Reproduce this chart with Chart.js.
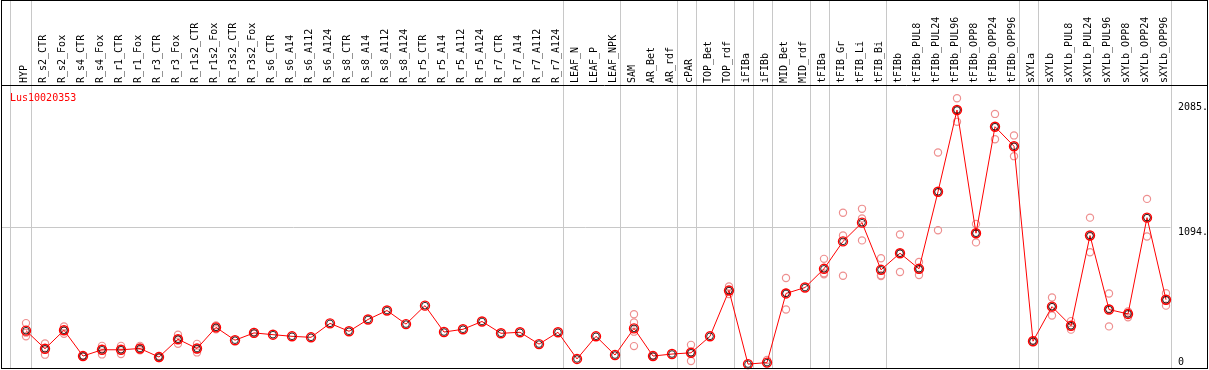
<!DOCTYPE html>
<html>
<head>
<meta charset="utf-8">
<script src="https://cdn.jsdelivr.net/npm/chart.js"></script>
<style>
  html, body { margin: 0; padding: 0; background: #fff; overflow: hidden; }
  #c { display: block; }
</style>
</head>
<body>
<canvas id="c" width="1209" height="370"></canvas>
<script>
// --- data ---
const title = 'Lus10020353';

const categories = [
  'HYP', 'R_s2_CTR', 'R_s2_Fox', 'R_s4_CTR', 'R_s4_Fox', 'R_r1_CTR', 'R_r1_Fox', 'R_r3_CTR', 'R_r3_Fox',
  'R_r1s2_CTR', 'R_r1s2_Fox', 'R_r3s2_CTR', 'R_r3s2_Fox', 'R_s6_CTR', 'R_s6_A14', 'R_s6_A112', 'R_s6_A124',
  'R_s8_CTR', 'R_s8_A14', 'R_s8_A112', 'R_s8_A124', 'R_r5_CTR', 'R_r5_A14', 'R_r5_A112', 'R_r5_A124',
  'R_r7_CTR', 'R_r7_A14', 'R_r7_A112', 'R_r7_A124', 'LEAF_N', 'LEAF_P', 'LEAF_NPK', 'SAM', 'AR_Bet', 'AR_rdf',
  'cPAR', 'TOP_Bet', 'TOP_rdf', 'iFIBa', 'iFIBb', 'MID_Bet', 'MID_rdf', 'tFIBa', 'tFIB_Gr', 'tFIB_Li', 'tFIB_Bi',
  'tFIBb', 'tFIBb_PUL8', 'tFIBb_PUL24', 'tFIBb_PUL96', 'tFIBb_OPP8', 'tFIBb_OPP24', 'tFIBb_OPP96',
  'sXYLa', 'sXYLb', 'sXYLb_PUL8', 'sXYLb_PUL24', 'sXYLb_PUL96', 'sXYLb_OPP8', 'sXYLb_OPP24', 'sXYLb_OPP96'
];

const means = [
  266, 122, 269, 64, 114, 114, 124, 56, 198,
  124, 292, 190, 248, 234, 221, 213, 324,
  261, 355, 426, 318, 465, 255, 277, 339,
  245, 253, 159, 253, 41, 221, 72, 284, 64, 80,
  90, 221, 585, 0, 12, 562, 609, 758, 976, 1125, 750,
  882, 758, 1371, 2021, 1041, 1888, 1733,
  182, 457, 305, 1023, 434, 399, 1165, 512
];

const replicates = [
  [326, 250, 222], [164, 127, 75], [300, 265, 242], [60, 68, 64], [145, 120, 77], [145, 117, 80],
  [145, 117, 110], [64, 56, 48], [234, 198, 161], [161, 118, 93], [308, 292, 277], [], [255, 242],
  [], [], [], [], [], [], [], [], [], [], [], [],
  [], [], [], [], [], [], [], [397, 331, 258, 143], [58, 70], [],
  [153, 92, 25], [], [617, 583, 557], [], [33], [685, 568, 434], [], [837, 722, 714],
  [1204, 1023, 703], [1235, 1159, 984], [842, 707, 701],
  [1031, 882, 732], [813, 750, 709], [1683, 1365, 1065], [2115, 2021, 1927], [1115, 1041, 968],
  [1990, 1888, 1788], [1819, 1727, 1654],
  [190, 176], [530, 455, 387], [342, 300, 274], [1165, 1014, 890], [562, 440, 300], [418, 405, 373],
  [1314, 1165, 1015], [564, 508, 465]
];

const yTicks = [0, 1094, 2085];
// index of the last category in each group (grey separators)
const groupEnds = [0, 28, 31, 34, 35, 37, 38, 39, 41, 42, 45, 52, 53, 60];

// replicate points keyed by category label so the category scale places them
const repPoints = [];
replicates.forEach((vals, i) => vals.forEach(v => repPoints.push({ x: categories[i], y: v })));

const font = '10px "DejaVu Sans Mono"';

const decor = {
  id: 'decor',
  beforeDatasetsDraw(chart) {
    const ctx = chart.ctx, xs = chart.scales.x, ys = chart.scales.y;
    ctx.save();
    ctx.strokeStyle = '#c8c8c8';
    ctx.lineWidth = 1;
    ctx.beginPath();
    const yMid = Math.round(ys.getPixelForValue(yTicks[1])) + 0.5;
    ctx.moveTo(1, yMid);
    ctx.lineTo(1170.5, yMid);
    ctx.moveTo(10.5, 0);
    ctx.lineTo(10.5, 369);
    groupEnds.forEach(i => {
      const x = Math.round(xs.getPixelForValue(i) + 4.5) + 0.5;
      ctx.moveTo(x, 0);
      ctx.lineTo(x, 369);
    });
    ctx.stroke();
    ctx.restore();
  },
  afterDatasetsDraw(chart) {
    const ctx = chart.ctx, xs = chart.scales.x, ys = chart.scales.y;
    ctx.save();
    ctx.strokeStyle = '#000';
    ctx.lineWidth = 1;
    ctx.strokeRect(1.5, 0.5, 1206, 368);
    ctx.beginPath();
    ctx.moveTo(1, 85.5);
    ctx.lineTo(1208, 85.5);
    ctx.stroke();

    // rotated category labels
    ctx.fillStyle = '#000';
    ctx.font = font;
    ctx.textAlign = 'left';
    ctx.textBaseline = 'alphabetic';
    categories.forEach((lab, i) => {
      const x = xs.getPixelForValue(i) + 1;
      ctx.save();
      ctx.translate(x, 83);
      ctx.rotate(-Math.PI / 2);
      ctx.fillText(lab, 0, 0);
      ctx.restore();
    });

    ctx.fillStyle = '#ff0000';
    ctx.fillText(title, 10, 101);

    // y tick labels on the right
    ctx.fillStyle = '#000';
    ctx.textBaseline = 'top';
    yTicks.forEach(v => {
      let y = ys.getPixelForValue(v) + 0.5;
      if (y > 357) y = 357;
      ctx.fillText(v === 0 ? '0' : v + '.', 1178, y);
    });
    ctx.restore();
  }
};

new Chart(document.getElementById('c'), {
  type: 'line',
  data: {
    labels: categories,
    datasets: [
      {
        // inner black ring of the mean markers
        data: means,
        showLine: false,
        pointStyle: 'circle',
        pointRadius: 3.3,
        pointBorderWidth: 0.8,
        pointBorderColor: '#000',
        pointBackgroundColor: 'rgba(0,0,0,0)',
        clip: false
      },
      {
        data: means,
        borderColor: '#ff0000',
        borderWidth: 1,
        tension: 0,
        pointStyle: 'circle',
        pointRadius: 4.5,
        pointBorderWidth: 1.4,
        pointBorderColor: '#ff0000',
        pointBackgroundColor: 'rgba(0,0,0,0)',
        clip: false
      },
      {
        data: repPoints,
        showLine: false,
        pointStyle: 'circle',
        pointRadius: 3.6,
        pointBorderWidth: 1.2,
        pointBorderColor: '#ee9090',
        pointBackgroundColor: 'rgba(0,0,0,0)',
        clip: false
      }
    ]
  },
  options: {
    responsive: false,
    devicePixelRatio: 1,
    animation: false,
    events: [],
    layout: { padding: { left: 16.5, right: 33.5, top: 85, bottom: 2.5 } },
    scales: {
      x: { type: 'category', offset: true, display: false },
      y: { min: 0, max: 2220, display: false }
    },
    plugins: { legend: { display: false }, tooltip: { enabled: false } }
  },
  plugins: [decor]
});
</script>
</body>
</html>
